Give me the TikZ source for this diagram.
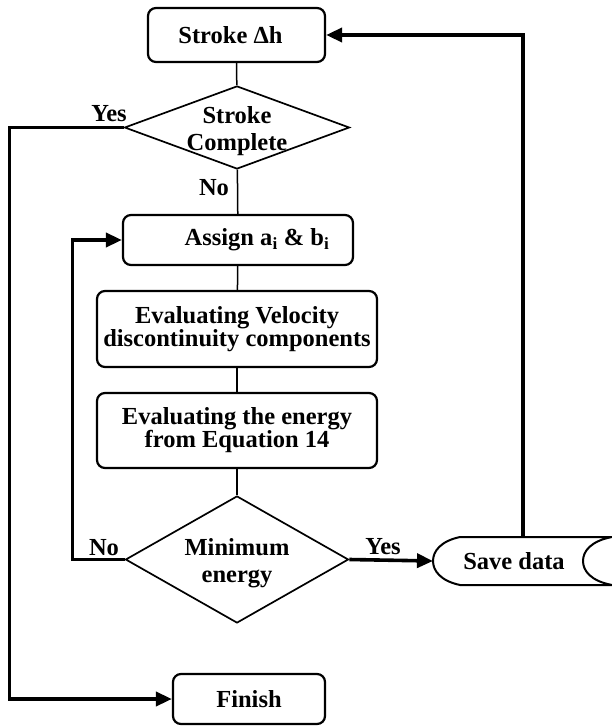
\documentclass[tikz,border=0pt]{standalone}
\usepackage{fontspec}
\setmainfont{Liberation Serif}
\usetikzlibrary{shapes.geometric,arrows.meta}
\tikzset{box/.style={
    draw, line width=2.2pt, rounded corners=8pt, inner sep=0pt,
    align=center, font=\bfseries\fontsize{24.5}{23}\selectfont
  },
  decision/.style={
    draw, diamond, line width=1.7pt, inner sep=0pt
  },
  txt/.style={
    inner sep=0pt, align=center, font=\bfseries\fontsize{24.5}{27}\selectfont
  },
  link/.style={line width=1.5pt},
  flow/.style={line width=3.6pt, -{Triangle[length=16pt,width=14pt]}},
  back/.style={line width=3.6pt}
}

\begin{document}
\begin{tikzpicture}[x=1pt,y=-1pt]
    \useasboundingbox (0,0) rectangle (612,727);
    % boxes
    \node[box, minimum width=177, minimum height=54] (stroke) at (236.5,35) {Stroke Δh\hspace*{12pt}};
    \node[decision, minimum width=225, minimum height=83] (done) at (237,127.5) {};
    \node[txt] (donetext) at (237,131) {Stroke\\Complete};
    \node[box, minimum width=230, minimum height=50] (assign) at (238,240) {\hspace*{38pt}Assign a\textsubscript{i} \& b\textsubscript{i}};
    \node[box, minimum width=280, minimum height=76] (velocity) at (237,329) {Evaluating Velocity\\discontinuity components};
    \node[box, minimum width=280, minimum height=75] (energy) at (237,430.5) {Evaluating the energy\\from Equation 14};
    \node[decision, minimum width=223, minimum height=127] (minimum) at (237,559.5) {};
    \node[txt] (minimumtext) at (237,563) {Minimum\\energy};
    \node[box, minimum width=152, minimum height=50] (finish) at (249,699) {Finish};
    % save data
    \node[txt] (save) at (514,561) {Save data};
    \coordinate (savein) at (433,561);
    \coordinate (savetop) at (523,537);
    \draw[line width=2pt] (612,537) -- (460,537) .. controls (441,541) and (433,551) .. (433,561)
      .. controls (433,571) and (441,581) .. (460,585) -- (612,585)
      .. controls (591,581) and (583,571) .. (583,561) .. controls (583,551) and (591,541) .. (612,537);
    % labels
    \node[txt] (yes1) at (109,114) {Yes};
    \node[txt] (no1) at (214,188) {No};
    \node[txt] (no2) at (104,548) {No};
    \node[txt] (yes2) at (383,547) {Yes};
    % connectors
    \draw[link] (stroke) -- (done);
    \draw[link] (done) -- (assign);
    \draw[link] (assign) -- (velocity);
    \draw[link] (velocity) -- (energy);
    \draw[link] (energy) -- (minimum);
    \draw[flow] (done.west) -- ++(-114,0) |- (finish.west);
    \draw[flow] (minimum.west) -- ++(-52,0) |- (assign.west);
    \draw[flow] (minimum.east) -- (savein);
    \draw[flow] (savetop) |- (stroke.east);
  \end{tikzpicture}
\end{document}
